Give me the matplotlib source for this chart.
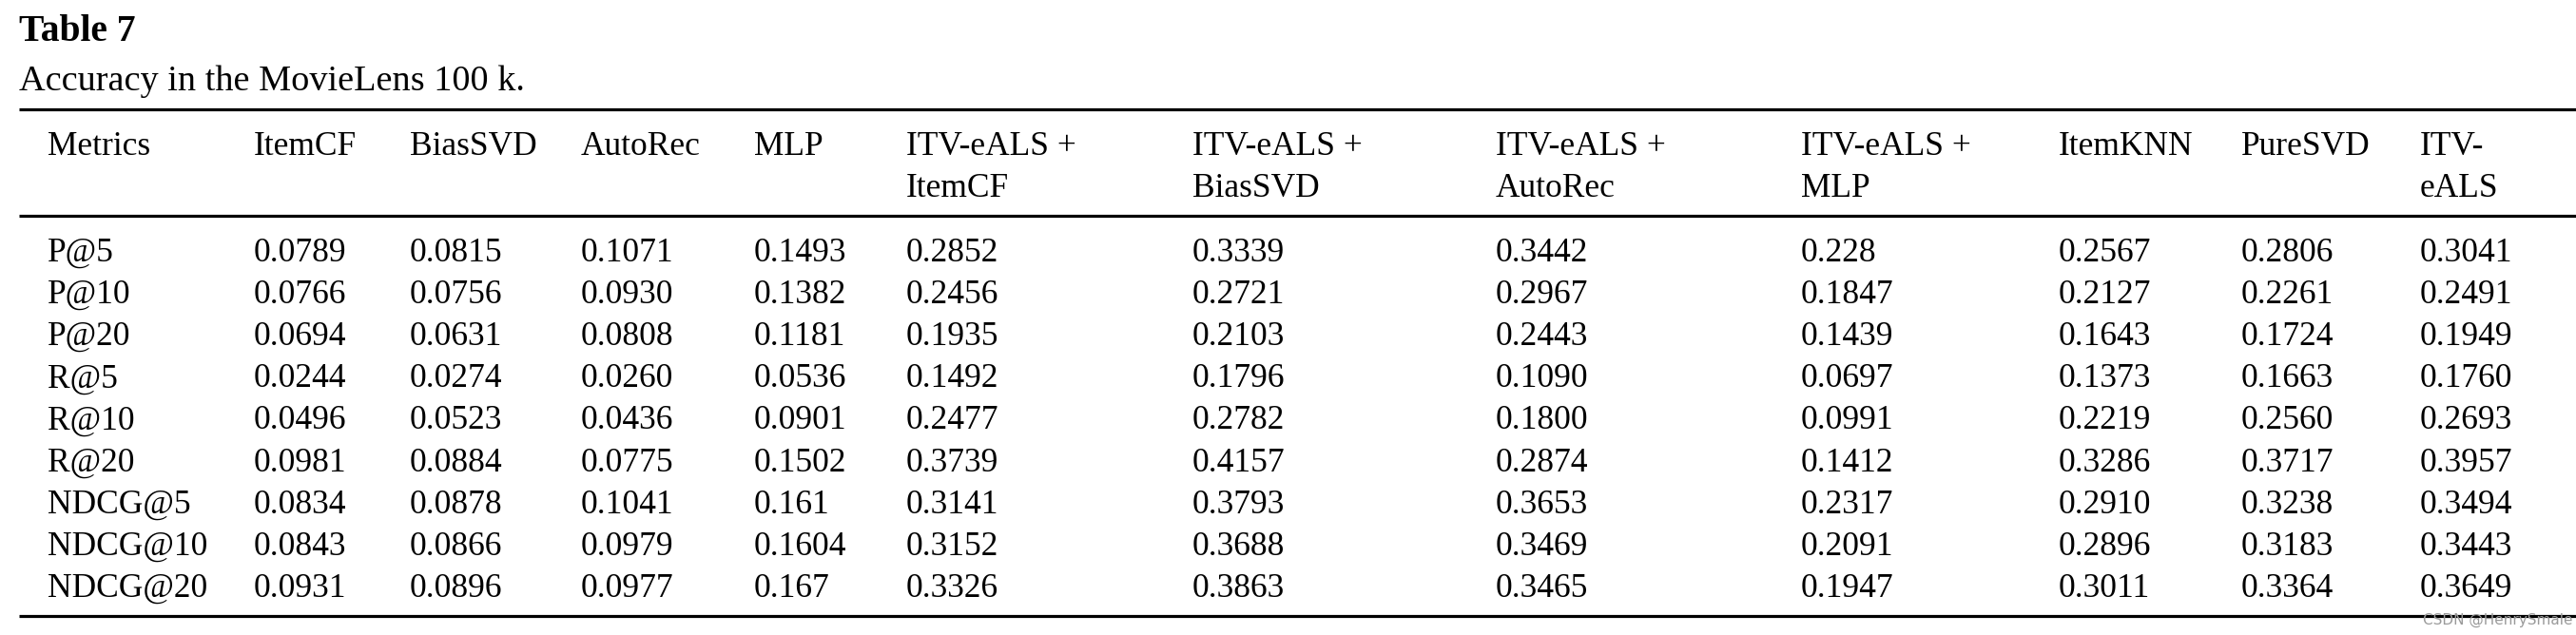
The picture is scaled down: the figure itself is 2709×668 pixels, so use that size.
import matplotlib
matplotlib.use("Agg")
import matplotlib.pyplot as plt

title = "Table 7"
caption = "Accuracy in the MovieLens 100 k."

headers = [
    ("Metrics", ""),
    ("ItemCF", ""),
    ("BiasSVD", ""),
    ("AutoRec", ""),
    ("MLP", ""),
    ("ITV-eALS +", "ItemCF"),
    ("ITV-eALS +", "BiasSVD"),
    ("ITV-eALS +", "AutoRec"),
    ("ITV-eALS +", "MLP"),
    ("ItemKNN", ""),
    ("PureSVD", ""),
    ("ITV-", "eALS"),
]

metrics = ["P@5", "P@10", "P@20", "R@5", "R@10", "R@20",
           "NDCG@5", "NDCG@10", "NDCG@20"]

item_cf = ["0.0789", "0.0766", "0.0694", "0.0244", "0.0496", "0.0981", "0.0834", "0.0843", "0.0931"]
bias_svd = ["0.0815", "0.0756", "0.0631", "0.0274", "0.0523", "0.0884", "0.0878", "0.0866", "0.0896"]
auto_rec = ["0.1071", "0.0930", "0.0808", "0.0260", "0.0436", "0.0775", "0.1041", "0.0979", "0.0977"]
mlp = ["0.1493", "0.1382", "0.1181", "0.0536", "0.0901", "0.1502", "0.161", "0.1604", "0.167"]
itv_itemcf = ["0.2852", "0.2456", "0.1935", "0.1492", "0.2477", "0.3739", "0.3141", "0.3152", "0.3326"]
itv_biassvd = ["0.3339", "0.2721", "0.2103", "0.1796", "0.2782", "0.4157", "0.3793", "0.3688", "0.3863"]
itv_autorec = ["0.3442", "0.2967", "0.2443", "0.1090", "0.1800", "0.2874", "0.3653", "0.3469", "0.3465"]
itv_mlp = ["0.228", "0.1847", "0.1439", "0.0697", "0.0991", "0.1412", "0.2317", "0.2091", "0.1947"]
item_knn = ["0.2567", "0.2127", "0.1643", "0.1373", "0.2219", "0.3286", "0.2910", "0.2896", "0.3011"]
pure_svd = ["0.2806", "0.2261", "0.1724", "0.1663", "0.2560", "0.3717", "0.3238", "0.3183", "0.3364"]
itv_eals = ["0.3041", "0.2491", "0.1949", "0.1760", "0.2693", "0.3957", "0.3494", "0.3443", "0.3649"]

columns = [metrics, item_cf, bias_svd, auto_rec, mlp, itv_itemcf, itv_biassvd,
           itv_autorec, itv_mlp, item_knn, pure_svd, itv_eals]

# layout in pixels of the 2709x668 canvas
W, H = 2709, 668
col_x = [50, 267, 431, 611, 793, 953, 1254, 1573, 1894, 2165, 2357, 2545]
head_y = [163, 207]
row_y0, row_dy = 275, 44.1
font = "Liberation Serif"
fs = 25.5

fig = plt.figure(figsize=(W / 100, H / 100), dpi=100)
ax = fig.add_axes([0, 0, 1, 1])
ax.set_xlim(0, W)
ax.set_ylim(H, 0)
ax.axis("off")

ax.text(20, 43, title, family=font, fontsize=28.5, fontweight="bold", va="baseline")
ax.text(20, 95, caption, family=font, fontsize=27.5, va="baseline")

for y in (115, 227, 648):
    ax.plot([20, W], [y, y], color="black", lw=2.3, solid_capstyle="butt")

for x, (h1, h2) in zip(col_x, headers):
    ax.text(x, head_y[0], h1, family=font, fontsize=fs, va="baseline")
    if h2:
        ax.text(x, head_y[1], h2, family=font, fontsize=fs, va="baseline")

for x, col in zip(col_x, columns):
    for i, v in enumerate(col):
        ax.text(x, row_y0 + i * row_dy, v, family=font, fontsize=fs, va="baseline")

ax.text(2548, 657, "CSDN @HenrySmale", family="DejaVu Sans", fontsize=11,
        color="#9a9a9a", va="baseline")

fig.savefig("out.png", dpi=100)
